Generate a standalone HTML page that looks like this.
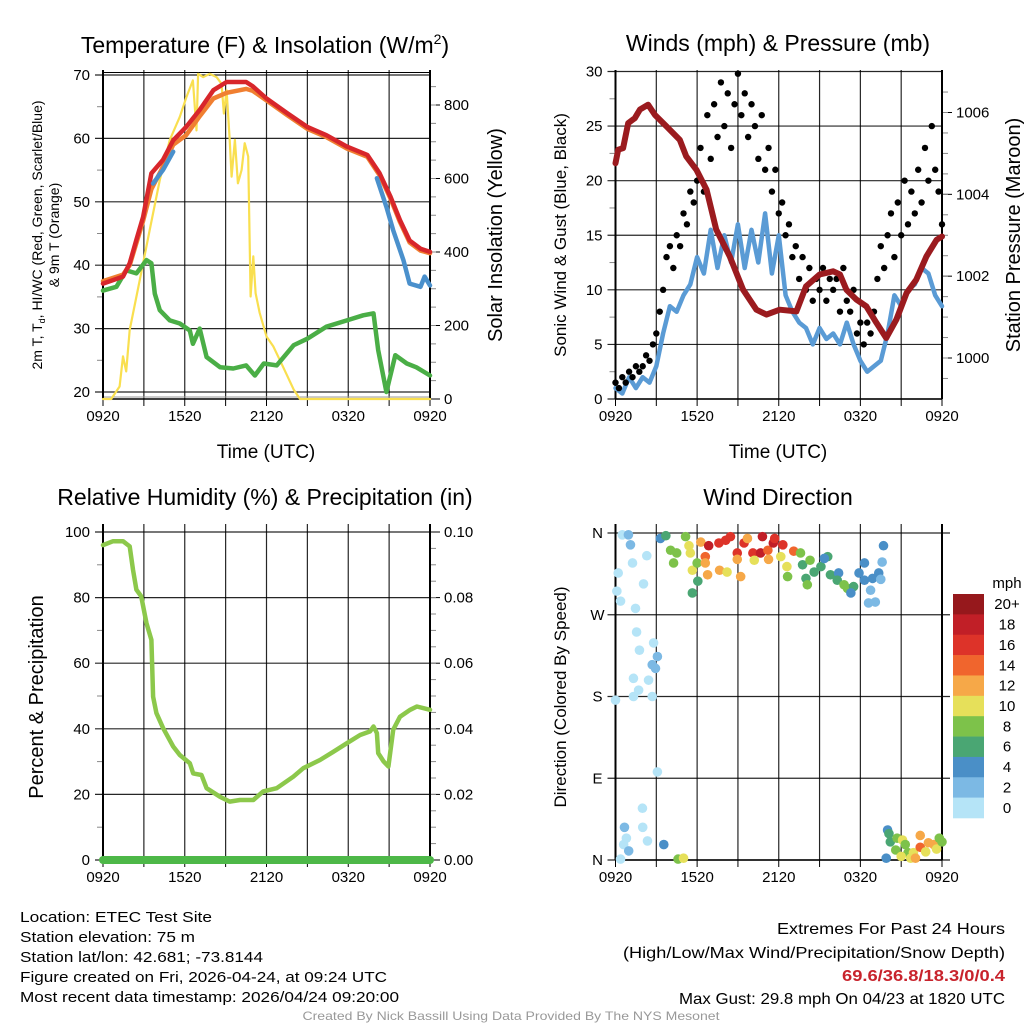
<!DOCTYPE html>
<html><head><meta charset="utf-8"><title>Mesonet Meteogram</title>
<style>html,body{margin:0;padding:0;background:#fff}svg{display:block}text{font-family:"Liberation Sans",sans-serif}</style>
</head><body>
<svg id="chart" xmlns="http://www.w3.org/2000/svg" width="1024" height="1024" viewBox="0 0 1024 1024">
<rect x="0" y="0" width="1024" height="1024" fill="#fff"/>
<text x="265" y="53" font-size="23" text-anchor="middle">Temperature (F) &amp; Insolation (W/m<tspan font-size="14" dy="-9">2</tspan><tspan dy="9">)</tspan></text>
<text x="778" y="51" font-size="23" text-anchor="middle">Winds (mph) &amp; Pressure (mb)</text>
<text x="265" y="505" font-size="23" text-anchor="middle">Relative Humidity (%) &amp; Precipitation (in)</text>
<text x="778" y="505" font-size="23" text-anchor="middle">Wind Direction</text>

<text transform="translate(42,235) rotate(-90)" font-size="14" text-anchor="middle">2m T, T<tspan font-size="9" dy="3">d</tspan><tspan dy="-3">, HI/WC (Red, Green, Scarlet/Blue)</tspan></text>
<text transform="translate(59,235) rotate(-90)" font-size="14" text-anchor="middle">&amp; 9m T (Orange)</text>
<text transform="translate(502,235) rotate(-90)" font-size="20" text-anchor="middle">Solar Insolation (Yellow)</text>
<text x="266" y="458" font-size="19" text-anchor="middle">Time (UTC)</text>
<text transform="translate(566,235) rotate(-90)" font-size="17" text-anchor="middle">Sonic Wind &amp; Gust (Blue, Black)</text>
<text transform="translate(1020,235) rotate(-90)" font-size="20" text-anchor="middle">Station Pressure (Maroon)</text>
<text x="778" y="458" font-size="19" text-anchor="middle">Time (UTC)</text>
<text transform="translate(43,697) rotate(-90)" font-size="20" text-anchor="middle">Percent &amp; Precipitation</text>
<text transform="translate(566,697) rotate(-90)" font-size="17" text-anchor="middle">Direction (Colored By Speed)</text>

<g id="layer"></g>

<g font-size="15">
<text x="20" y="922" textLength="192" lengthAdjust="spacingAndGlyphs">Location: ETEC Test Site</text>
<text x="20" y="942" textLength="175" lengthAdjust="spacingAndGlyphs">Station elevation: 75 m</text>
<text x="20" y="962" textLength="243" lengthAdjust="spacingAndGlyphs">Station lat/lon: 42.681; -73.8144</text>
<text x="20" y="982" textLength="367" lengthAdjust="spacingAndGlyphs">Figure created on Fri, 2026-04-24, at 09:24 UTC</text>
<text x="20" y="1002" textLength="379" lengthAdjust="spacingAndGlyphs">Most recent data timestamp: 2026/04/24 09:20:00</text>
</g>
<g font-size="16" text-anchor="end">
<text x="1005" y="934" textLength="228" lengthAdjust="spacingAndGlyphs">Extremes For Past 24 Hours</text>
<text x="1005" y="958" textLength="382" lengthAdjust="spacingAndGlyphs">(High/Low/Max Wind/Precipitation/Snow Depth)</text>
<text x="1005" y="981" fill="#c8232c" font-weight="bold" textLength="163" lengthAdjust="spacingAndGlyphs">69.6/36.8/18.3/0/0.4</text>
<text x="1005" y="1004" textLength="326" lengthAdjust="spacingAndGlyphs">Max Gust: 29.8 mph On 04/23 at 1820 UTC</text>
</g>
<text x="511" y="1020" font-size="12" fill="#999" text-anchor="middle" textLength="417" lengthAdjust="spacingAndGlyphs">Created By Nick Bassill Using Data Provided By The NYS Mesonet</text>
</svg>
<script>
// ---------- data ----------
const timeTickLabels = ["0920","1520","2120","0320","0920"];
const tempTicks = [20,30,40,50,60,70];
const solarTicks = [0,200,400,600,800];
const windTicks = [0,5,10,15,20,25,30];
const pressTicks = [1000,1002,1004,1006];
const rhTicks = [0,20,40,60,80,100];
const precipTicks = ["0.00","0.02","0.04","0.06","0.08","0.10"];
const dirTickLabels = ["N","E","S","W","N"];
const speedBins = ["0","2","4","6","8","10","12","14","16","18","20+"];
const speedColors = ["#b5e4f7","#7cb9e4","#4a8fc7","#4aa673","#7dc24a","#e6e05a","#f6a848","#f0652d","#dd3329","#c11f27","#96181c"];

const redTimes = [0,1.47,1.96,2.45,2.94,3.55,4.4,5.15,6.1,7.1,8.1,9.07,10.5,11,12,13.5,15,16.4,17.9,19.4,20.3,21.1,21.8,22.5,23.3,24];
const redTemp = [37.1,38.2,40.3,44,47.6,54.5,56.6,59.7,61.8,64.5,67.6,68.9,68.9,68.2,66.3,64,61.8,60.5,58.7,57.4,54.5,50.8,47.1,43.9,42.6,42.1];
const orangeTemp = [37.5,38.5,40,43.5,47,52,55.5,59,60.5,63.5,66.3,67.2,67.8,67.5,66,63.7,61.5,60.2,58.4,57.1,54.2,50.5,46.8,43.6,42.3,41.9];
const blueTimesA = [3.68,4.4,5.15];
const blueTempA = [52.9,55,57.9];
const blueTimesB = [20.1,20.8,21.3,22.05,22.5,23.3,23.6,24];
const blueTempB = [53.7,49.2,45.5,40.8,37.1,36.6,38.2,36.8];
const dewTimes = [0,0.98,1.7,2.45,3.19,3.55,3.8,4.17,4.9,5.64,6.37,6.6,7.1,7.6,8.6,9.56,10.5,11.15,11.8,12.75,14,15,16.4,17.9,19.1,19.85,20.2,20.8,21.45,22.3,23,24];
const dewTemp = [36,36.6,39.2,38.7,40.8,40.3,35.5,32.9,31.3,30.8,29.7,27.6,30,25.5,23.9,23.7,24.2,22.6,24.5,24.2,27.4,28.4,30.3,31.3,32.1,32.4,26.6,20,25.8,24.5,23.9,22.6];
const solarTimes = [0,0.6,1.22,1.47,1.7,1.96,2.7,3.43,4.17,4.9,5.64,6.13,6.6,6.86,6.98,7.35,7.84,8.33,8.7,8.87,9.07,9.3,9.44,9.68,9.9,10.17,10.4,10.66,10.83,11.03,11.2,11.5,12,12.5,13.2,14,14.46,24];
const solarVals = [0,0,34,116,75,188,324,460,596,705,768,822,867,731,885,876,885,876,858,777,840,705,605,705,587,623,696,660,279,388,288,234,170,143,89,25,0,0];

const windVals = [1,0.5,2,1,2,1.5,3,6,8.5,8,9.5,10.5,13,11.5,15.5,12,15,12.5,16,12,15.5,12.5,17,11.5,15,9.5,8,7,6.5,5,6.5,5.5,6,5,7,5,3.5,2.5,3,3.5,6,9.5,8.5,10,10.5,12,11.5,9.5,8.5];
const gustVals = [1.5,1,2,1.5,2.5,2,3,2.5,3, 4,3.5,5,6, 8,10,13,14, 12,15,14,17, 16,19,18,20, 23,19,26,22, 27,24,29,25, 28,23,27,29.8, 26,28,24,27, 25,22,26,21, 23,19,21,17, 18,15,16,13, 14,11,13,10, 12,9,11,10, 12,9,11,10, 11,8,12,9, 8,10,6,7, 5,7,6,8, 11,14,12,15, 17,13,18,15, 20,16,19,17, 21,18,23,20, 25,21,19,16];
const pressTimes = [0,0.2,0.56,0.93,1.42,1.79,2.4,2.9,3.75,4.73,5.2,5.95,6.7,7.4,8.4,9.38,10.36,11.1,12.07,13.3,14,15,16,16.5,16.97,17.7,18.44,19.18,19.9,20.65,21.4,22.1,22.85,23.6,24];
const pressVals = [1004.76,1005.09,1005.13,1005.74,1005.86,1006.07,1006.19,1005.94,1005.66,1005.33,1004.93,1004.6,1004.11,1003.14,1002.48,1001.67,1001.18,1001.06,1001.18,1001.14,1001.75,1002.04,1002.12,1002.04,1001.67,1001.43,1001.26,1000.86,1000.49,1000.94,1001.59,1001.91,1002.48,1002.89,1002.97];

const rhTimes = [0,0.74,1.47,1.96,2.2,2.45,2.8,3.19,3.55,3.68,3.92,4.41,5.15,5.64,6.37,6.62,7.23,7.6,8.58,9.3,10.05,11.03,11.76,12.75,13.97,14.7,15.93,16.9,17.9,18.87,19.6,19.85,20.1,20.2,20.6,20.95,21.3,21.8,22.55,23.04,24];
const rhVals = [96,97.2,97.2,95.6,88.5,82.4,80.4,72.2,67.1,49.8,44.8,40.2,34.6,32,29.5,26.4,25.9,21.9,19.3,17.8,18.3,18.3,20.9,21.9,25.4,28,30.5,33,35.6,38.1,39.2,40.7,38.7,32.6,30,28.5,39.7,43.7,45.8,46.8,45.8];
const precipTimes = [0,24];
const precipVals = [0,0];

const dirTimes = [0.5,0.95,1.1,2.3,1.25,0.2,2.06,0.1,0.37,1.47,1.55,2.8,1.76,3.08,2.7,2.94,1.32,2.43,1.7,1.32,2.7,0,3.08,1.98,0.66,2,0.8,2.35,0.6,0.97,0.37,3.55,4.6,5,
 3.3,3.7,4.05,4.5,4.27,5.15,5.4,5.5,5.65,6,6.05,5.65,6.27,6.6,6.85,6.6,6.77,7.6,7.65,8.1,8.2,8.45,8.95,8.95,9.2,9.45,9.7,10.1,10.2,10.66,10.8,11.2,11.25,11.6,11.7,12.3,12.15,12.6,13.1,13.6,12.65,13.75,14.3,14,14.1,14.6,15.1,15.6,15.35,15.8,16.4,16.3,16.8,17.05,17.5,17.3,17.9,18.3,18.3,18.75,18.9,18.6,19.1,19.35,19.6,19.5,19.7,
 20,20.1,20.2,19.9,20.6,20.7,21.1,21.3,21.5,21.7,21.9,22.05,22.4,22.4,22.8,23,23.4,23.6,23.8,24,21];
const dirVals = [358,358,347,335,327,316,304,296,285,277,251,239,231,224,215,211,200,198,187,180,180,176,97,57,36,36,24,21,17,10,1,17,1,2,
 354,357,341,338,327,356,346,338,319,327,307,294,350,334,346,327,314,349,319,352,317,356,338,331,312,349,354,338,330,338,356,341,331,349,354,347,334,323,340,338,312,325,330,310,303,317,323,334,332,314,316,308,303,299,301,294,316,327,308,297,310,283,284,316,328,309,346,
 33,29,20,2,11,24,22,17,8,2,8,2,27,14,9,19,17,12,24,20,4];
const dirSpeeds = [1,2,3,1,1,0,0,0,0,0,0,1,0,3,2,2,0,1,0,0,0,0,0,0,3,0,1,0,0,3,0,4,8,10,
 4,6,8,8,8,8,10,10,10,8,6,6,12,14,18,12,12,16,12,16,10,17,16,12,12,16,12,16,10,18,18,14,12,18,16,16,10,10,14,8,8,6,8,6,8,6,6,6,4,6,4,6,8,8,6,4,4,4,4,2,4,2,2,4,2,2,4,
 4,6,6,4,8,8,10,8,8,10,10,12,12,14,10,12,12,10,8,8,10];

// ---------- helpers ----------
const NS = "http://www.w3.org/2000/svg";
const layer = document.getElementById("layer");
function el(tag, attrs, parent) {
  const e = document.createElementNS(NS, tag);
  for (const k in attrs) e.setAttribute(k, attrs[k]);
  (parent || layer).appendChild(e);
  return e;
}
function linScale(d0, d1, r0, r1) { return v => r0 + (v - d0) / (d1 - d0) * (r1 - r0); }
function pathFrom(ts, vs, xs, ys) {
  return ts.map((t, i) => (i ? "L" : "M") + xs(t).toFixed(1) + "," + ys(vs[i]).toFixed(1)).join("");
}

function panelFrame(p, name) {
  const g = el("g", {});
  
  
  for (let h = 3; h < 24; h += 3) {
    const ln = el("line", {x1: p.xs(h), x2: p.xs(h), y1: p.top, y2: p.bot, stroke: "#000", "stroke-width": 1.2, "stroke-opacity": 0.85}, g);
    
    
  }
  for (let h = 0; h <= 24; h += 3) {
    el("line", {x1: p.xs(h), x2: p.xs(h), y1: p.bot, y2: p.bot + 7, stroke: "#000", "stroke-width": 1}, g);
  }
  timeTickLabels.forEach((lab, i) => {
    const tx = el("text", {x: p.xs(i * 6), y: p.bot + 22, "font-size": 15, "text-anchor": "middle"}, g);
    tx.textContent = lab;
    
    
  });
  return g;
}
function hGridLeft(g, p, ticks, ys, labels) {
  ticks.forEach((v, i) => {
    const ln = el("line", {x1: p.x0 - 8, x2: p.x1, y1: ys(v), y2: ys(v), stroke: "#000", "stroke-width": 1.2, "stroke-opacity": 0.85}, g);
    
    
    const tx = el("text", {x: p.x0 - 13, y: ys(v) + 5, "font-size": 15, "text-anchor": "end"}, g);
    tx.textContent = labels ? labels[i] : String(v);
    
    
  });
}
function rightTicks(g, p, ticks, ys, labels) {
  ticks.forEach((v, i) => {
    el("line", {x1: p.x1, x2: p.x1 + 10, y1: ys(v), y2: ys(v), stroke: "#000", "stroke-width": 1}, g);
    const tx = el("text", {x: p.x1 + 14, y: ys(v) + 5, "font-size": 15}, g);
    tx.textContent = labels ? labels[i] : String(v);
    
    
  });
}
function minorTicks(g, x, ys, from, to, step, dir) {
  for (let v = from; v <= to + 1e-9; v += step) {
    const y = ys(v);
    el("line", {x1: x, x2: x + dir * 6, y1: y, y2: y, stroke: "#888", "stroke-width": 1}, g);
  }
}
function border(g, p, top) {
  el("line", {x1: p.x0, x2: p.x0, y1: p.top, y2: p.bot, stroke: "#000", "stroke-width": 2}, g);
  el("line", {x1: p.x1, x2: p.x1, y1: p.top, y2: p.bot, stroke: "#000", "stroke-width": 2}, g);
  el("line", {x1: p.x0, x2: p.x1, y1: p.bot, y2: p.bot, stroke: "#000", "stroke-width": 1.5}, g);
  if (top) el("line", {x1: p.x0, x2: p.x1, y1: p.top, y2: p.top, stroke: "#000", "stroke-width": 1.5}, g);
}
function line(ts, vs, p, ys, color, w, name) {
  const e = el("path", {d: pathFrom(ts, vs, p.xs, ys), fill: "none", stroke: color, "stroke-width": w, "stroke-linejoin": "round", "stroke-linecap": "round"});
  
  
  return e;
}

// ---------- panel 1: temperature ----------
const p1 = {x0: 103, x1: 430, top: 70, bot: 399};
p1.xs = linScale(0, 24, p1.x0, p1.x1);
const yT = linScale(20, 70, 392, 75);
const yS = linScale(0, 800, 399, 105);
const g1 = panelFrame(p1, "temperature-panel");
el("line", {x1: p1.x0, x2: p1.x1, y1: 72.5, y2: 72.5, stroke: "#000", "stroke-width": 1}, g1);
hGridLeft(g1, p1, tempTicks, yT);
el("line", {x1: p1.x0, x2: p1.x1, y1: 397, y2: 397, stroke: "#999", "stroke-width": 1}, g1);
minorTicks(g1, p1.x0, yT, 25, 65, 10, -1);
rightTicks(g1, p1, solarTicks, yS);
minorTicks(g1, p1.x1, yS, 50, 850, 50, 1);
border(g1, p1, false);
line(solarTimes, solarVals, p1, yS, "#f9df4f", 2.2, "solar-insolation-line");
line(dewTimes, dewTemp, p1, yT, "#4aae46", 4.5, "dewpoint-line");
line(redTimes, orangeTemp, p1, yT, "#f07f31", 4.5, "9m-temperature-line");
line(redTimes, redTemp, p1, yT, "#d8262b", 4.5, "2m-temperature-line");
line(blueTimesA, blueTempA, p1, yT, "#4a90cc", 4.5, "heat-index-line");
line(blueTimesB, blueTempB, p1, yT, "#4a90cc", 4.5, "wind-chill-line");

// ---------- panel 2: winds ----------
const p2 = {x0: 615.5, x1: 942, top: 70, bot: 399};
p2.xs = linScale(0, 24, p2.x0, p2.x1);
const yW = linScale(0, 30, 399, 71.5);
const yP = linScale(1000, 1006, 358, 112.5);
const g2 = panelFrame(p2, "winds-panel");
hGridLeft(g2, p2, windTicks, yW);
minorTicks(g2, p2.x0, yW, 2.5, 27.5, 5, -1);
rightTicks(g2, p2, pressTicks, yP);
minorTicks(g2, p2.x1, yP, 999.5, 1006.5, 0.5, 1);
border(g2, p2, false);
const windTimes = windVals.map((v, i) => i * 0.5);
line(windTimes, windVals, p2, yW, "#5a9bd5", 4.5, "sonic-wind-line");
gustVals.forEach((v, i) => {
  const c = el("circle", {cx: p2.xs(i * 0.25), cy: yW(v), r: 3.2, fill: "#000"});
  
  
});
line(pressTimes, pressVals, p2, yP, "#9b1b1f", 6, "station-pressure-line");

// ---------- panel 3: humidity ----------
const p3 = {x0: 103, x1: 430, top: 524, bot: 860};
p3.xs = linScale(0, 24, p3.x0, p3.x1);
const yR = linScale(0, 100, 860, 532);
const yPr = linScale(0, 0.1, 860, 532);
const g3 = panelFrame(p3, "humidity-panel");
hGridLeft(g3, p3, rhTicks, yR);
minorTicks(g3, p3.x0, yR, 10, 90, 20, -1);
rightTicks(g3, p3, [0,0.02,0.04,0.06,0.08,0.1], yPr, precipTicks);
minorTicks(g3, p3.x1, yPr, 0.005, 0.095, 0.005, 1);
border(g3, p3, false);
line(rhTimes, rhVals, p3, yR, "#8cc84b", 4.5, "relative-humidity-line");
line(precipTimes, precipVals, p3, yPr, "#4db848", 8, "precipitation-line");

// ---------- panel 4: wind direction ----------
const p4 = {x0: 615.5, x1: 942, top: 524, bot: 860};
p4.xs = linScale(0, 24, p4.x0, p4.x1);
const yD = linScale(0, 360, 860, 533);
const g4 = panelFrame(p4, "wind-direction-panel");
dirTickLabels.forEach((lab, i) => {
  const v = i * 90;
  el("line", {x1: p4.x0 - 8, x2: p4.x1 + 8, y1: yD(v), y2: yD(v), stroke: "#000", "stroke-width": 1.2, "stroke-opacity": 0.85}, g4);
  const tx = el("text", {x: p4.x0 - 18, y: yD(v) + 5, "font-size": 15, "text-anchor": "middle"}, g4);
  tx.textContent = lab;
  
  
});
border(g4, p4, false);
function speedColor(s) { return speedColors[Math.min(10, Math.max(0, Math.floor(s / 2)))]; }
dirTimes.forEach((t, i) => {
  const c = el("circle", {cx: p4.xs(t), cy: yD(dirVals[i]), r: 4.8, fill: speedColor(dirSpeeds[i])});
  
  
});
const cb = el("g", {});


const mph = el("text", {x: 1007, y: 588, "font-size": 15, "text-anchor": "middle"}, cb);
mph.textContent = "mph";


const boxH = (818 - 594) / speedBins.length;
speedBins.forEach((lab, i) => {
  const k = speedBins.length - 1 - i;
  const r = el("rect", {x: 953, y: 594 + i * boxH, width: 31, height: boxH + 0.3, fill: speedColors[k]}, cb);
  
  
  const tx = el("text", {x: 1007, y: 594 + i * boxH + boxH / 2 + 5, "font-size": 15, "text-anchor": "middle"}, cb);
  tx.textContent = speedBins[k];
  
  
});
</script>
</body></html>
